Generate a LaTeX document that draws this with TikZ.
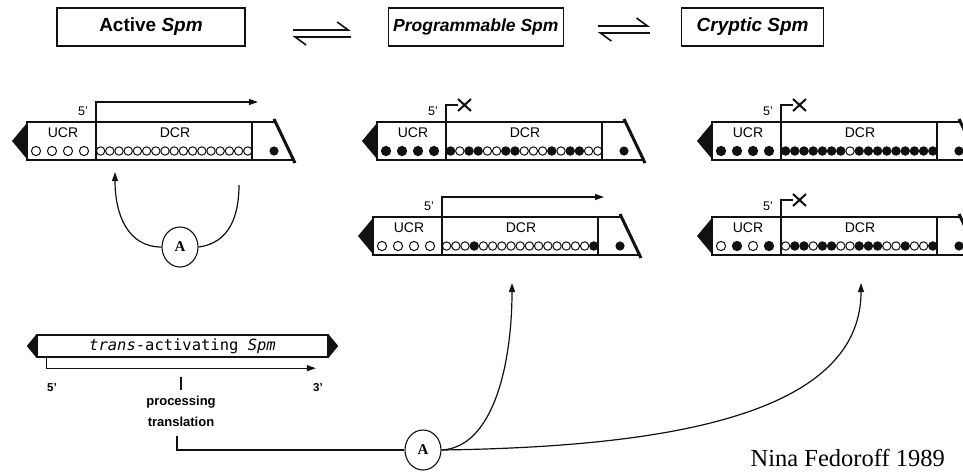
\documentclass[tikz,border=0pt]{standalone}
\usepackage{fontspec}
\setmainfont{Liberation Sans}
\newfontfamily\monofam{DejaVu Sans Mono}
\newfontfamily\serifam{Liberation Serif}
\usepackage{tikz}
\usetikzlibrary{arrows.meta,positioning,shapes.geometric}
\definecolor{ink}{RGB}{17,17,17}
% one Spm element: name, left x, top y, UCR dots, DCR dots (1 = methylated)
\newcommand{\spmel}[5]{%
  \begin{scope}[shift={(#2,#3)}]
    \coordinate (#1-p) at (69,0);
    \draw[el] (247,0) -- (0,0) -- (0,38) -- (266,38) (69,0) -- (69,38) (225,0) -- (225,38);
    \fill[ink] (0,1) -- (-15,19) -- (0,37) -- cycle;
    \draw[endbar] (247,-3) -- (268,41);
    \node[reg,anchor=base] at (36,15) {UCR};
    \node[reg,anchor=base] at (148,15) {DCR};
    \foreach \f [count=\i from 0] in {#4} \filldraw[dot,fill opacity=\f] ({9+\i*16},29) circle (4.6);
    \foreach \f [count=\i from 0] in {#5} \filldraw[dot,fill opacity=\f] ({73.6+\i*9.2},29) circle (4.2);
    \fill[ink] (247,29) circle (4.6);
  \end{scope}}
\newcommand{\promon}[1]{%
  \node[five] at ([xshift=-13pt,yshift=11pt]#1-p) {5'};
  \draw[ar] (#1-p) -- ++(0,-20) -- ++(162,0);}
\newcommand{\promoff}[1]{%
  \node[five] at ([xshift=-13pt,yshift=11pt]#1-p) {5'};
  \draw[lnk] (#1-p) -- ++(0,-17) -- ++(12,0);
  \draw[xmark] ([xshift=12pt,yshift=23pt]#1-p) -- ++(13,12) ([xshift=12pt,yshift=11pt]#1-p) -- ++(13,-12);}

\begin{document}
\begin{tikzpicture}[x=1pt,y=-1pt,
      font=\fontsize{13}{13}\selectfont,
      el/.style={draw=ink,line width=1.3pt},
      endbar/.style={draw=ink,line width=3pt},
      reg/.style={inner sep=0pt,font=\fontsize{14}{14}\selectfont},
      dot/.style={draw=ink,fill=ink,line width=1pt},
      five/.style={inner sep=0pt,font=\fontsize{12.5}{12.5}\selectfont},
      lnk/.style={draw=ink,line width=1.2pt},
      ar/.style={lnk,-{Triangle[length=9pt,width=6pt]}},
      xmark/.style={draw=ink,line width=2pt},
      hp/.style={draw=ink,line width=1.6pt,-{Straight Barb[harpoon,length=11pt,width=16pt]}},
      ttl/.style={draw=ink,line width=1.3pt,minimum height=38pt,inner sep=0pt,
                  font=\bfseries\fontsize{19}{20}\selectfont},
      transbox/.style={draw=ink,line width=2.4pt,minimum width=291pt,minimum height=22pt,
                       inner sep=0pt,font=\monofam\fontsize{15.5}{16}\selectfont},
      endlbl/.style={inner sep=0pt,font=\bfseries\fontsize{11.5}{11.5}\selectfont},
      proc/.style={inner sep=0pt,font=\bfseries\fontsize{13}{13}\selectfont},
      anode/.style={ellipse,draw=ink,line width=1.1pt,minimum width=36pt,minimum height=40pt,
                    inner sep=0pt,font=\serifam\bfseries\fontsize{15}{15}\selectfont},
      credit/.style={inner sep=0pt,font=\serifam\fontsize{24.5}{25}\selectfont}]
      \useasboundingbox (0,0) rectangle (963,472);
      \fill[white] (0,0) rectangle (963,472);
      \clip (0,0) rectangle (963,472);
      % states
      \node[ttl,minimum width=188pt] (act) at (151,27) {Active \textit{Spm}};
      \node[ttl,minimum width=175pt,right=142pt of act,
            font=\bfseries\itshape\fontsize{17.5}{18}\selectfont] (prog) {Programmable Spm};
      \node[ttl,minimum width=142pt,right=117pt of prog] (cryp) {\itshape Cryptic Spm};
      \draw[hp] ([xshift=47pt,yshift=-3pt]act.east) -- ([xshift=-37pt,yshift=-3pt]prog.west);
      \draw[hp] ([xshift=-37pt,yshift=-10pt]prog.west) -- ([xshift=47pt,yshift=-10pt]act.east);
      \draw[hp] ([xshift=34pt,yshift=1pt]prog.east) -- ([xshift=-31pt,yshift=1pt]cryp.west);
      \draw[hp] ([xshift=-31pt,yshift=-6pt]cryp.west) -- ([xshift=34pt,yshift=-6pt]prog.east);
      % elements
      \spmel{act}{27}{122}{0,0,0,0}{0,0,0,0,0,0,0,0,0,0,0,0,0,0,0,0,0}
      \spmel{pt}{377}{122}{1,1,1,1}{1,0,1,1,0,0,1,1,0,0,0,1,0,1,1,0,0}
      \spmel{ct}{712}{122}{1,1,1,1}{1,1,1,1,1,1,1,0,1,1,1,1,1,1,1,1,1}
      \spmel{pb}{373}{217}{0,0,0,0}{0,0,0,1,0,0,0,0,0,0,0,0,0,0,0,0,1}
      \spmel{cb}{712}{217}{0,1,0,1}{0,1,1,0,1,1,0,0,1,1,1,0,0,1,0,0,1}
      \promon{act} \promoff{pt} \promoff{ct} \promon{pb} \promoff{cb}
      % transposase loop
      \node[anode] (a1) at (180,247) {A};
      \coordinate (loop-in) at (115,172);
      \coordinate (loop-out) at (239,185);
      \draw[ar] (a1.west) .. controls (128,247) and (115,215) .. (loop-in);
      \draw[lnk] (a1.east) .. controls (230,243) and (239,215) .. (loop-out);
      % trans-activating element
      \node[transbox] (trans) at (182.5,346) {\textit{trans}-activating \textit{Spm}};
      \fill[ink] ([yshift=11pt]trans.west) -- ++(-9,11) -- ++(9,11) -- cycle;
      \fill[ink] ([yshift=11pt]trans.east) -- ++(9,11) -- ++(-9,11) -- cycle;
      \draw[ar] ([xshift=11pt]trans.south west) -- ++(0,10) -- ++(269,0);
      \node[endlbl] (p5) at (52,388) {5'};
      \node[endlbl] (p3) at (318,388) {3'};
      \node[proc] (proc) at (181,402) {processing};
      \node[proc,below=9pt of proc] (trl) {translation};
      \draw[lnk] ([yshift=6pt]proc.north) -- ++(0,-13);
      \node[anode] (a2) at (423,450) {A};
      \draw[lnk] ([xshift=-4pt,yshift=-9pt]trl.south) |- (a2.west);
      \coordinate (pb-in) at (512,283);
      \coordinate (cb-in) at (861,283);
      \draw[ar] (a2.east) .. controls (495,447) and (512,360) .. (pb-in);
      \draw[ar] (a2.east) .. controls (650,447) and (861,420) .. (cb-in);
      \node[credit,anchor=base east] (cred) at (945,466) {Nina Fedoroff 1989};
    \end{tikzpicture}
\end{document}
